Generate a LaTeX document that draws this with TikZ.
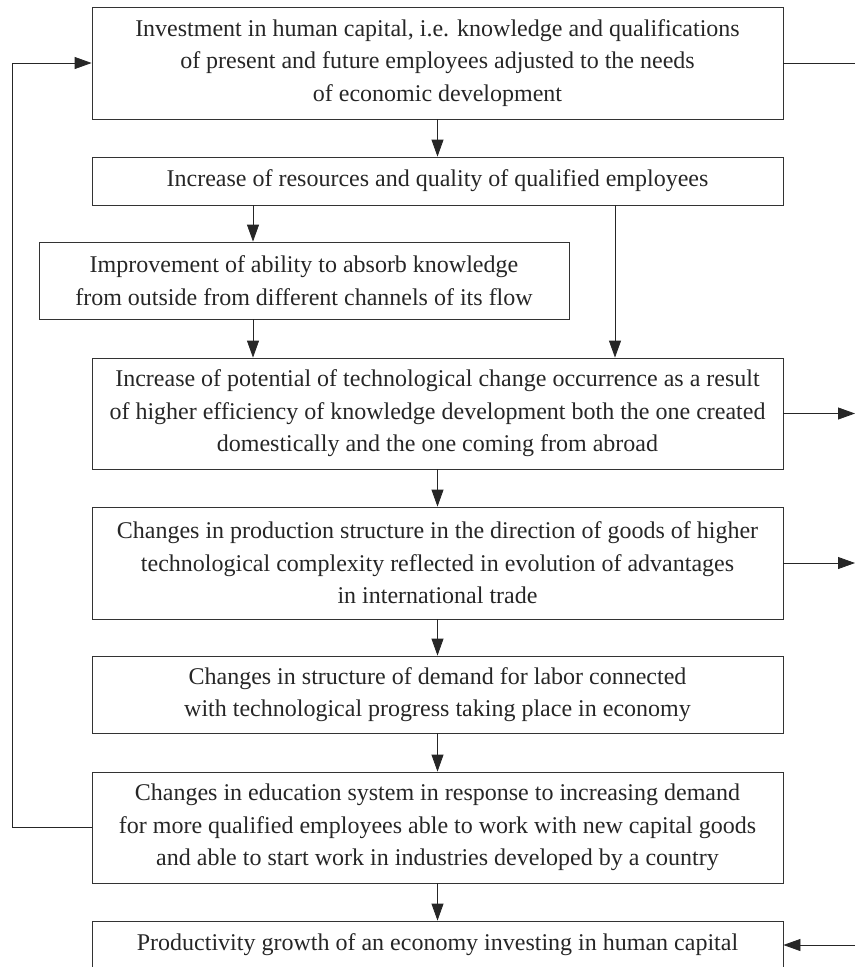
\documentclass[tikz,border=0pt]{standalone}
\usepackage{fontspec}
\setmainfont{Liberation Serif}
\usetikzlibrary{arrows.meta,positioning}

\begin{document}
\begin{tikzpicture}[x=1pt,y=-1pt]
	\tikzstyle{every node}+=[inner sep=0pt]
	\tikzstyle{box}=[draw=black!80, line width=0.8pt, text=black!85, align=center, minimum width=691, font=\fontsize{24}{32.5}\selectfont]
	\tikzstyle{arr}=[draw=black!85, line width=0.8pt, -{Triangle[length=17pt,width=12pt]}]
	\tikzstyle{line}=[draw=black!85, line width=0.8pt]
	\useasboundingbox (0,0) rectangle (855,967);
	% boxes
	\node [box, minimum height=112] (invest) at (437.5,63) {Investment in human capital, i.e. knowledge and qualifications\\of present and future employees adjusted to the needs\\of economic development};
	\node [box, minimum height=48] (incres) at (437.5,181) {Increase of resources and quality of qualified employees};
	\node [box, minimum height=77, minimum width=530] (absorb) at (304,280.5) {Improvement of ability to absorb knowledge\\from outside from different channels of its flow};
	\node [box, minimum height=111] (potent) at (437.5,413.5) {Increase of potential of technological change occurrence as a result\\of higher efficiency of knowledge development both the one created\\domestically and the one coming from abroad};
	\node [box, minimum height=112] (prodstr) at (437.5,563) {Changes in production structure in the direction of goods of higher\\technological complexity reflected in evolution of advantages\\in international trade};
	\node [box, minimum height=77] (labor) at (437.5,694.5) {Changes in structure of demand for labor connected\\with technological progress taking place in economy};
	\node [box, minimum height=111] (edu) at (437.5,827.5) {Changes in education system in response to increasing demand\\for more qualified employees able to work with new capital goods\\and able to start work in industries developed by a country};
	\node [box, minimum height=48] (growth) at (437.5,945) {Productivity growth of an economy investing in human capital};
	% helper points
	\coordinate (lx) at (253,0);
	\coordinate (rx) at (615,0);
	\coordinate (leftend) at (12,0);
	\coordinate (rightend) at (855,0);
	% connectors
	\draw [arr] (invest) -- (incres);
	\draw [arr] (incres.south -| lx) -- (absorb.north -| lx);
	\draw [arr] (incres.south -| rx) -- (potent.north -| rx);
	\draw [arr] (absorb.south -| lx) -- (potent.north -| lx);
	\draw [arr] (potent) -- (prodstr);
	\draw [arr] (prodstr) -- (labor);
	\draw [arr] (labor) -- (edu);
	\draw [arr] (edu) -- (growth);
	\draw [arr] (edu.west) -- (edu.west -| leftend) |- (invest.west);
	\draw [line] (invest.east) -- (invest.east -| rightend);
	\draw [arr] (potent.east) -- (potent.east -| rightend);
	\draw [arr] (prodstr.east) -- (prodstr.east -| rightend);
	\draw [arr] (growth.east -| rightend) -- (growth.east);
\end{tikzpicture}
\end{document}
